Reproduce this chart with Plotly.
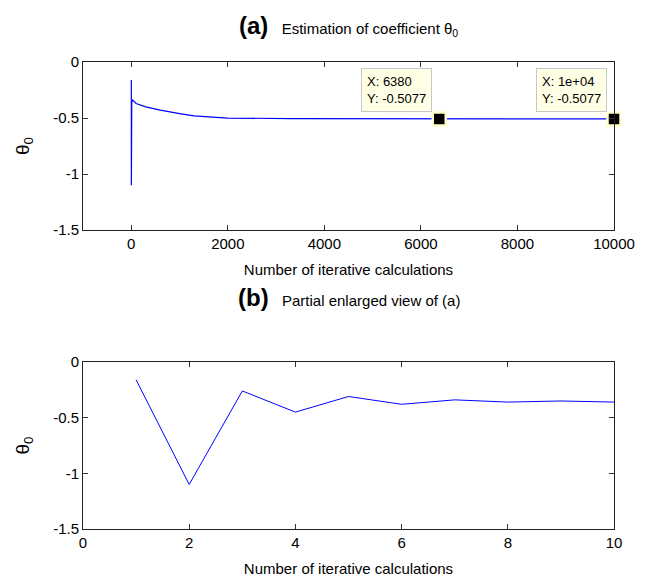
import plotly.graph_objects as go
from plotly.subplots import make_subplots

# (a) full run: sampled iterations and estimated theta_0
iter_a = [1, 2, 3, 4, 5, 6, 7, 8, 9, 10, 30, 100, 300, 600, 1000, 1300, 1600, 2000, 3300, 6380, 10000]
theta_a = [-0.16, -1.10, -0.26, -0.45, -0.31, -0.38, -0.34, -0.36, -0.35, -0.36, -0.34,
           -0.37, -0.40, -0.43, -0.46, -0.48, -0.49, -0.50, -0.505, -0.5077, -0.5077]

# data tips
tip_x = [6380, 10000]
tip_y = [-0.5077, -0.5077]
tip_text = ["X: 6380<br>Y: -0.5077", "X: 1e+04<br>Y: -0.5077"]

# (b) first 10 iterations
iter_b = [1, 2, 3, 4, 5, 6, 7, 8, 9, 10]
theta_b = [-0.16, -1.10, -0.26, -0.45, -0.31, -0.38, -0.34, -0.36, -0.35, -0.36]

xticks_a = [0, 2000, 4000, 6000, 8000, 10000]
xticks_b = [0, 2, 4, 6, 8, 10]
yticks = [0, -0.5, -1, -1.5]
yticklabels = ["0", "-0.5", "-1", "-1.5"]

FONT = "Liberation Sans, Arial, Helvetica, sans-serif"

fig = make_subplots(rows=2, cols=1)
fig.add_trace(go.Scatter(x=iter_a, y=theta_a, mode="lines",
                         line=dict(color="#0000ff", width=1.2), showlegend=False), row=1, col=1)
fig.add_trace(go.Scatter(x=tip_x, y=tip_y, mode="markers",
                         marker=dict(symbol="square", size=13, color="black",
                                     line=dict(color="#ffffcc", width=2.5)),
                         showlegend=False, cliponaxis=False), row=1, col=1)
fig.add_trace(go.Scatter(x=iter_b, y=theta_b, mode="lines",
                         line=dict(color="#0000ff", width=1), showlegend=False), row=2, col=1)

axis_common = dict(showline=True, linecolor="#222", linewidth=1, mirror="ticks",
                   ticks="inside", ticklen=5, tickcolor="#333", showgrid=False,
                   zeroline=False, automargin=False,
                   tickfont=dict(size=15, color="black", family=FONT))

fig.update_layout(
    width=648, height=582,
    margin=dict(l=83, r=34, t=62, b=53),
    plot_bgcolor="white", paper_bgcolor="white",
    font=dict(family=FONT, color="black"),
    xaxis=dict(domain=[0, 1], range=[-1000, 10000], tickvals=xticks_a,
               ticktext=[str(v) for v in xticks_a],
               title=dict(text="Number of iterative calculations", font=dict(size=15), standoff=13),
               **axis_common),
    yaxis=dict(domain=[0.640, 1], range=[-1.5, 0], tickvals=yticks, ticktext=yticklabels,
               title=dict(text="θ<sub>0</sub>", font=dict(size=19), standoff=18),
               **axis_common),
    xaxis2=dict(domain=[0, 1], range=[0, 10], tickvals=xticks_b,
                ticktext=[str(v) for v in xticks_b],
                title=dict(text="Number of iterative calculations", font=dict(size=15), standoff=13),
                **axis_common),
    yaxis2=dict(domain=[0, 0.3576], range=[-1.5, 0], tickvals=yticks, ticktext=yticklabels,
                title=dict(text="θ<sub>0</sub>", font=dict(size=19), standoff=18),
                **axis_common),
)

for tx, ty, tt in zip(tip_x, tip_y, tip_text):
    fig.add_annotation(x=tx, y=ty, xref="x", yref="y", text=tt, showarrow=False,
                       xanchor="right", yanchor="bottom", xshift=-7, yshift=7,
                       align="left", bgcolor="#ffffe6", bordercolor="#c8c8c8", borderwidth=1,
                       borderpad=5, font=dict(size=13, color="black", family=FONT))

fig.add_annotation(x=0.5, y=1.079, xref="paper", yref="paper", showarrow=False,
                   xanchor="center", yanchor="middle",
                   text="<b>(a)</b>  <span style='font-size:15px'>Estimation of coefficient θ<sub>0</sub></span>",
                   font=dict(size=24, family=FONT, color="black"))
fig.add_annotation(x=0.5, y=0.495, xref="paper", yref="paper", showarrow=False,
                   xanchor="center", yanchor="middle",
                   text="<b>(b)</b>  <span style='font-size:15px'>Partial enlarged view of (a)</span>",
                   font=dict(size=24, family=FONT, color="black"))

fig.write_html("out.html")
